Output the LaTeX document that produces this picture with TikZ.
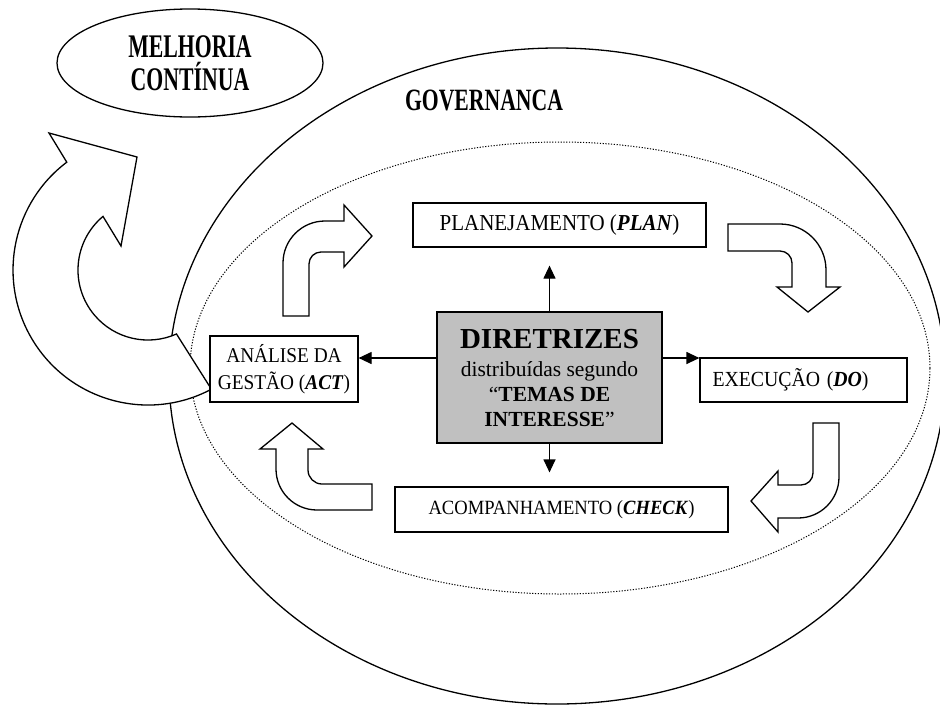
\documentclass[tikz,border=0pt]{standalone}
\usepackage{fontspec}
\setmainfont{Liberation Serif}
\usetikzlibrary{arrows.meta,shapes.geometric}
\newcommand\narrowtxt[1]{\scalebox{0.92}[1]{#1}}
\begin{document}
\begin{tikzpicture}[x=1pt,y=1pt,
  box/.style={draw, line width=1.2pt, fill=white, inner sep=0pt, font=\fontsize{21.5}{24}\selectfont, align=center},
  conn/.style={line width=1.2pt, -{Triangle[length=13pt,width=12pt]}},
  blockarrow/.style={draw, line width=1.3pt, fill=white, line join=miter},
  title/.style={font=\fontsize{33}{35}\selectfont\bfseries, align=center, inner sep=0pt}
  ]
\clip (0,0) rectangle (940,-705);
\fill[white] (0,0) rectangle (940,-705);
% ellipses
\draw[line width=1.3pt] (557,-376) ellipse [x radius=388, y radius=328];
\draw[line width=1pt, dash pattern=on 1.2pt off 1.6pt] (560,-368) ellipse [x radius=370, y radius=226];
\node[draw, ellipse, line width=1.3pt, minimum width=266, minimum height=108, title] (mc) at (190,-63)
  {\scalebox{0.66}[1]{MELHORIA}\\[-2pt]\scalebox{0.66}[1]{CONTÍNUA}};
\node[title, font=\fontsize{31}{33}\selectfont\bfseries] (gov) at (484,-100) {\scalebox{0.7}[1]{GOVERNANCA}};
% big circular arrow
\draw[blockarrow] (211.4,-389.2) arc[start angle=298, end angle=127, radius=135]
  -- (49,-133) -- (137,-157) -- (121,-246) -- (103,-216.4)
  arc[start angle=130, end angle=294, radius=70] -- cycle;
% boxes
\node[box, minimum width=293, minimum height=44, font=\fontsize{22.8}{24}\selectfont] (plan) at (559.5,-225) {\narrowtxt{PLANEJAMENTO (\textbf{\textit{PLAN}})}};
\node[box, minimum width=207, minimum height=44, text width=182, align=left, inner xsep=12.5pt] (do) at (803.5,-380) {\narrowtxt{EXECUÇÃO (\textbf{\textit{DO}})}};
\node[box, minimum width=148, minimum height=66, font=\fontsize{21}{27}\selectfont] (act) at (284,-369) {\narrowtxt{ANÁLISE DA}\\\narrowtxt{GESTÃO (\textbf{\textit{ACT}})}};
\node[box, minimum width=333, minimum height=45, font=\fontsize{20.2}{22}\selectfont] (check) at (561.5,-509.5) {\narrowtxt{ACOMPANHAMENTO (\textbf{\textit{CHECK}})}};
\node[box, fill={rgb,255:red,192;green,192;blue,192}, minimum width=225, minimum height=131, font=\fontsize{21.5}{25}\selectfont] (dir) at (549.5,-377.5)
  {{\fontsize{29}{30}\selectfont\bfseries DIRETRIZES}\\[3pt]distribuídas segundo\\“\textbf{TEMAS DE}\\\textbf{INTERESSE}”};
% connectors
\coordinate (hl) at (0,-358);
\draw[conn, shorten >=18pt] (dir.north) -- (dir.north |- plan.south);
\draw[conn, shorten >=14pt] (dir.south) -- (dir.south |- check.north);
\draw[conn] (dir.west |- hl) -- (act.east |- hl);
\draw[conn] (dir.east |- hl) -- (do.west |- hl);
% block arrows
\draw[blockarrow] (283,-316) -- (283,-263) arc[start angle=180, end angle=90, radius=42]
  -- (344,-221) -- (344,-205) -- (372,-236) -- (344,-267) -- (344,-252) -- (321,-252)
  arc[start angle=90, end angle=180, radius=12] -- (309,-316) -- cycle;
\draw[blockarrow] (728,-224) -- (780,-224) arc[start angle=90, end angle=0, radius=46]
  -- (826,-287) -- (840,-287) -- (808,-312) -- (777,-287) -- (792,-287) -- (792,-263)
  arc[start angle=0, end angle=90, radius=12] -- (728,-251) -- cycle;
\draw[blockarrow] (813,-423) -- (839,-423) -- (839,-477) arc[start angle=0, end angle=-90, radius=41]
  -- (778,-518) -- (778,-532) -- (751,-501) -- (778,-471) -- (778,-485) -- (801,-485)
  arc[start angle=-90, end angle=0, radius=12] -- cycle;
\draw[blockarrow] (372,-484) -- (322,-484) arc[start angle=270, end angle=180, radius=14]
  -- (308,-449) -- (323,-449) -- (292,-423) -- (260,-449) -- (276,-449) -- (276,-469)
  arc[start angle=180, end angle=270, radius=41] -- (372,-510) -- cycle;
\end{tikzpicture}
\end{document}
